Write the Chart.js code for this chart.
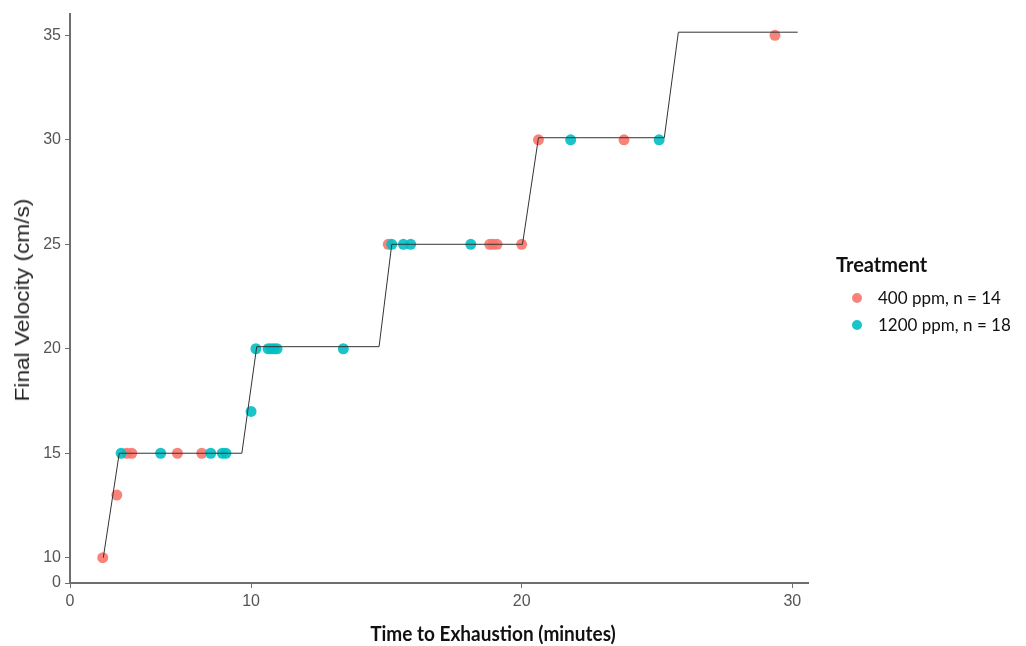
<!DOCTYPE html>
<html>
<head>
<meta charset="utf-8">
<script src="https://cdn.jsdelivr.net/npm/chart.js@4.4.0/dist/chart.umd.min.js"></script>
<style>
body { margin: 0; background: #fff; }
#wrap { position: relative; width: 1026px; height: 646px; }
#wrap canvas { position: absolute; left: 0; top: 0; }
.ytitle { position: absolute; left: 22px; top: 300px; font: 21px "Liberation Sans", Arial, sans-serif; color: #222;
  white-space: nowrap; transform: translate(-50%, -50%) rotate(-90deg) scaleX(1.08); }
.xtitle { position: absolute; left: 493px; top: 633px; font: bold 19px Lato, sans-serif; color: #111;
  white-space: nowrap; transform: translate(-50%, -50%) scaleY(1.12); }
.legend { position: absolute; left: 836px; top: 252px; font-family: Lato, sans-serif; color: #111; }
.legend .head { font-weight: bold; font-size: 20px; margin-bottom: 8px; }
.legend .item { font-size: 17px; height: 27px; line-height: 27px; position: relative; padding-left: 42px; white-space: nowrap; }
.legend .dot { position: absolute; left: 16px; top: 9px; width: 10px; height: 10px; border-radius: 50%; }
</style>
</head>
<body>
<div id="wrap">
  <canvas id="grafico" width="1026" height="646"></canvas>
  <div class="ytitle">Final Velocity (cm/s)</div>
  <div class="xtitle">Time to Exhaustion (minutes)</div>
  <div class="legend" id="legenda"></div>
</div>
<script>
// axis ranges (the "0" labels sit on a broken axis start)
var xMin = 3.31, xMax = 30.58;
var yMin = 8.79, yMax = 36.04;
var xTickValues = [3.31, 10, 20, 30];
var xTickLabels = ['0', '10', '20', '30'];
var yTickValues = [8.79, 10, 15, 20, 25, 30, 35];
var yTickLabels = ['0', '10', '15', '20', '25', '30', '35'];

var seriesNames = ['400 ppm, n = 14', '1200 ppm, n = 18'];
var seriesColors = ['rgba(248,118,109,0.9)', 'rgba(0,191,196,0.9)'];

var time400 = [4.52, 5.04, 5.41, 5.59, 7.28, 8.18, 15.07, 18.82, 18.94, 19.09, 20.00, 20.62, 23.78, 29.36];
var vel400  = [10, 13, 15, 15, 15, 15, 25, 25, 25, 25, 25, 30, 30, 35];
var time1200 = [5.20, 6.66, 8.51, 8.94, 9.07, 10.00, 10.18, 10.63, 10.74, 10.85, 10.96, 13.41, 15.20, 15.63, 15.90, 18.12, 21.81, 25.08];
var vel1200  = [15, 15, 15, 15, 15, 17, 20, 20, 20, 20, 20, 20, 25, 25, 25, 25, 30, 30];

// protocol step line
var stepTime = [4.54, 5.13, 9.66, 10.21, 14.73, 15.20, 20.03, 20.62, 25.27, 25.79, 30.20];
var stepVel  = [10, 15, 15, 20.1, 20.1, 25, 25, 30.1, 30.1, 35.15, 35.15];

function pares(xs, ys) {
    return xs.map(function(x, i) { return { x: x, y: ys[i] }; });
}

function eixo(min, max, valores, rotulos, extra) {
    var s = {
        type: 'linear',
        min: min,
        max: max,
        border: { display: true, color: '#6e6e6e', width: 2 },
        grid: { drawOnChartArea: false, drawTicks: true, tickLength: 5, color: '#6e6e6e', lineWidth: 1 },
        ticks: {
            color: '#555',
            font: { family: '"Liberation Sans", Arial, sans-serif', size: 16 },
            padding: 4,
            callback: function(v) {
                var i = valores.indexOf(v);
                return i >= 0 ? rotulos[i] : '';
            }
        },
        afterBuildTicks: function(scale) {
            scale.ticks = valores.map(function(v) { return { value: v }; });
        }
    };
    return Object.assign(s, extra);
}

var ctx = document.getElementById('grafico').getContext('2d');
var myChart = new Chart(ctx, {
    type: 'scatter',
    data: {
        datasets: [{
            label: 'step',
            data: pares(stepTime, stepVel),
            showLine: true,
            borderColor: '#333',
            borderWidth: 1,
            pointRadius: 0,
            fill: false
        }, {
            label: seriesNames[1],
            data: pares(time1200, vel1200),
            backgroundColor: seriesColors[1],
            borderWidth: 0,
            pointRadius: 5.5
        }, {
            label: seriesNames[0],
            data: pares(time400, vel400),
            backgroundColor: seriesColors[0],
            borderWidth: 0,
            pointRadius: 5.5
        }]
    },
    options: {
        responsive: false,
        animation: false,
        layout: { padding: { left: 0, right: 218, top: 7, bottom: 0 } },
        plugins: {
            legend: { display: false },
            tooltip: { enabled: false }
        },
        scales: {
            x: eixo(xMin, xMax, xTickValues, xTickLabels, {
                afterFit: function(scale) { scale.height = 63; }
            }),
            y: eixo(yMin, yMax, yTickValues, yTickLabels, {
                afterFit: function(scale) { scale.width = 70; }
            })
        }
    }
});

// legend as html
var leg = document.getElementById('legenda');
var html = '<div class="head">Treatment</div>';
seriesNames.forEach(function(n, i) {
    html += '<div class="item"><span class="dot" style="background:' + seriesColors[i] + '"></span>' + n + '</div>';
});
leg.innerHTML = html;
</script>
</body>
</html>
